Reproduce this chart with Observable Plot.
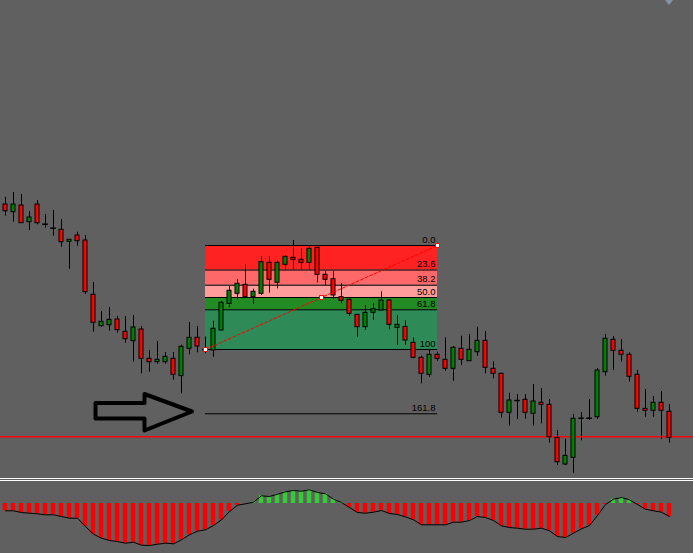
<!DOCTYPE html>
<html><head><meta charset="utf-8">
<script src="https://cdn.jsdelivr.net/npm/d3@7"></script>
<script src="https://cdn.jsdelivr.net/npm/@observablehq/plot@0.6"></script>
<style>
html,body{margin:0;padding:0;background:#606060;}
#chart{position:relative;width:693px;height:553px;background:#606060;overflow:hidden;}
#chart svg{display:block;background:transparent;}
.sep{height:1px;border-top:1px solid #fff;border-bottom:1px solid #fff;}
.shift{position:absolute;left:665px;top:0;width:0;height:0;border-left:4px solid transparent;border-right:4px solid transparent;border-top:5px solid #8493aa;}
</style></head>
<body><div id="chart"><div class="shift"></div></div>
<script>
// ---- price data (arbitrary price points), one candle per bar ----
const open = [276,268.3,275,258.3,276,256.3,252.3,250.7,238.7,245,
240,185.7,154.3,155.3,161,148.7,139.3,151,121.7,118.3,
118.3,121.7,104.3,131.7,142.7,131,130,150,176.7,186.7,
195.7,183.3,186.7,217.7,197.7,215.7,222.7,220.7,217.7,232.7,
205.7,201.3,183.3,180.7,165.7,153.3,167.7,170,180,152.7,
153.5,137.7,122.7,105.7,125.7,120.7,111.7,131.7,119.3,128.3,
139.7,111.7,106.7,67.7,80,80.7,66.7,77.7,75.7,42.7,
16,22.7,62.3,62.3,63.3,108.3,140.7,129.7,125.7,105.7,
71.7,69.7,77.7,68.7];
const close = [269.3,276,257.3,263,257.3,256.3,252.3,238.3,240.7,239.3,
188.3,157.7,158.7,160.7,150.3,141.3,153,121.7,118.3,120.7,
123.7,105.7,133.7,142.7,134,131,151.7,177.7,189.7,196.7,
183.3,188.7,218.3,200.7,217.7,223.7,220.7,217.7,231.7,205.7,
200.7,185,179.7,166.7,153.3,167.7,171.3,180,155.7,155.7,
140,122.7,106.7,125.7,121.7,111.7,132.7,120.7,130.7,139.7,
112.7,106.7,67.7,80,80,67.7,79,75.7,43.3,18.3,
24.7,61.7,62.3,62.3,110,141.7,129.7,125.7,103.7,71.7,
69.7,77.7,69.7,42.7];
const high = [283.3,288,286,269,280,266,270,261,240.7,248.3,
245,198,169,173,164,164,165,154,130,139,
128,128,135.3,158,154,143.5,159.3,179,194,200.7,
215.7,191.3,224,224,219.3,224.7,240,231.3,234,232.7,
209.3,209.3,196.7,181.7,165.7,175,176.7,188.7,180.7,165,
159.5,142.5,124.3,131,128.3,142.7,134,144.3,146,153.3,
149,119,107.3,87.3,86,86,96,92,81,50,
41.3,66,68,81,112,146,144,141,127.7,110,
91,84,89,76];
const low = [264.3,258.3,257.3,250,255.7,252.3,244.3,233.3,211.3,234.3,
186,148.3,153.3,149.3,147.3,137.3,118.3,106.7,108.3,116.3,
116.3,100.3,86.7,125.7,127.7,126.7,123.3,150,172.7,180.7,
183.3,176,185,187.3,191.7,210.7,210.7,210.7,210.7,197.7,
195,181.7,176.7,164,143.3,150,160,170,150.7,135,
135,121.7,96.7,103.3,119.3,109.3,99.3,115,119.3,124.3,
106.7,101.7,62.3,54.3,61,61.3,54.3,56.7,37.3,15,
15,7.3,39.7,60,61,104.3,110,118.3,98.3,68.3,
63.3,63.3,41,37.3];

// ---- MACD histogram values (lower pane) ----
const macd = [-7.3,-7.3,-9,-9.7,-10.3,-11.3,-11.3,-13,-14.7,-14.7,
-23,-30.7,-34.7,-37,-38,-39.7,-38.7,-41.7,-42,-40.7,
-39.7,-40.3,-36.3,-31.3,-27.7,-26.3,-22,-16.3,-8,-1.7,
-0.3,1.3,7.7,7,9.3,11.7,13,12.3,13.7,11,
9.7,4.3,1,-4,-9,-9.7,-8.7,-7,-10,-11,
-13.3,-16.3,-21.3,-21.3,-21.3,-21.3,-18.7,-18.7,-17,-13,
-14,-17,-22.3,-24,-24.7,-25.7,-25.7,-24.7,-27.3,-33,
-34,-29.7,-25.3,-22,-12,-1,4.3,6,3.7,-1,
-5.7,-7.3,-8.7,-13];

// ---- Fibonacci retracement object ----
const fibStart = 25, fibEnd = 54;      // bar indices of the anchors
const fibLow = 131, fibHigh = 235;     // anchor prices
const fibRatios = [0, 23.6, 38.2, 50, 61.8, 100, 161.8];
const fibLabels = ["0.0", "23.6", "38.2", "50.0", "61.8", "100", "161.8"];
const fibZoneColors = ["#ff2222", "#ff6868", "#ff9c9c", "#238b23", "#2e8b57"];

// ---- other annotations ----
const hLevel = 43.7;                   // horizontal red line price
const arrowI = [11.25, 17.375, 17.375, 23.31, 17.375, 17.375, 11.25, 11.25];
const arrowP = [77.5, 77.5, 86.5, 69, 50, 62, 62, 77.5];

// ---- build tables ----
const candles = open.map((o, i) => ({i, open: o, high: high[i], low: low[i], close: close[i]}));
const bodies = candles.filter(d => d.open !== d.close);
const dojis = candles.filter(d => d.open === d.close);
const levelPrice = r => fibHigh - (fibHigh - fibLow) * r / 100;
const levels = fibRatios.map((r, k) => ({r, price: levelPrice(r), label: fibLabels[k]}));
const zones = fibZoneColors.map((c, k) => ({top: levels[k].price, bottom: levels[k + 1].price, color: c}));
const trend = [{i: fibStart, p: fibLow}, {i: fibEnd, p: fibHigh}];
const markers = [{i: fibStart, p: fibLow}, {i: (fibStart + fibEnd) / 2, p: (fibLow + fibHigh) / 2}, {i: fibEnd, p: fibHigh}];
const arrow = arrowI.map((x, k) => ({i: x, p: arrowP[k]}));
const macdData = macd.map((v, i) => ({i, v}));

const xDomain = [-0.625, 86];

const pricePlot = Plot.plot({
  width: 693, height: 478, margin: 0,
  style: {background: "transparent", overflow: "visible"},
  x: {domain: xDomain, axis: null},
  y: {domain: [2, 480], axis: null},
  color: {type: "identity"},
  marks: [
    Plot.rect(zones, {x1: () => fibStart, x2: () => fibEnd, y1: "top", y2: "bottom", fill: "color"}),
    Plot.ruleY(levels, {y: "price", x1: () => fibStart, x2: () => fibEnd, stroke: "#000", strokeWidth: 1}),
    Plot.text(levels, {x: () => fibEnd, y: "price", text: "label", textAnchor: "end", lineAnchor: "bottom",
      dx: -2, dy: -3, fill: "#000", fontSize: 9.5, fontFamily: "Liberation Sans, Arial, sans-serif"}),
    Plot.ruleY([hLevel], {stroke: "#ff0000", strokeWidth: 1.4}),
    Plot.ruleX(candles, {x: "i", y1: "low", y2: "high", stroke: "#000", strokeWidth: 1}),
    Plot.rect(bodies, {x1: d => d.i - 0.25, x2: d => d.i + 0.25,
      y1: d => Math.min(d.open, d.close), y2: d => Math.max(d.open, d.close),
      fill: d => d.close > d.open ? "#008000" : "#ff0000", stroke: "#000", strokeWidth: 1}),
    Plot.ruleY(dojis, {y: "open", x1: d => d.i - 0.35, x2: d => d.i + 0.35, stroke: "#000", strokeWidth: 1.5}),
    Plot.line(trend, {x: "i", y: "p", stroke: "#ff0000", strokeWidth: 1, strokeDasharray: "3,2"}),
    Plot.dot(markers, {x: "i", y: "p", symbol: "square", r: 2.3, fill: "#fff", stroke: "#ff0000", strokeWidth: 1}),
    Plot.line(arrow, {x: "i", y: "p", stroke: "#000", strokeWidth: 4, strokeLinejoin: "round"})
  ]
});

const macdPlot = Plot.plot({
  width: 693, height: 72, margin: 0,
  style: {background: "transparent", overflow: "visible"},
  x: {domain: xDomain, axis: null},
  y: {domain: [-50, 22], axis: null},
  color: {type: "identity"},
  marks: [
    Plot.rect(macdData, {x1: d => d.i - 0.28, x2: d => d.i + 0.28, y1: () => 0, y2: "v",
      fill: d => d.v >= 0 ? "#32cd32" : "#ff0000"}),
    Plot.line(macdData, {x: "i", y: "v", stroke: "#000", strokeWidth: 1})
  ]
});

const root = document.getElementById("chart");
root.appendChild(pricePlot);
const sep = document.createElement("div");
sep.className = "sep";
root.appendChild(sep);
root.appendChild(macdPlot);
</script>
</body></html>
